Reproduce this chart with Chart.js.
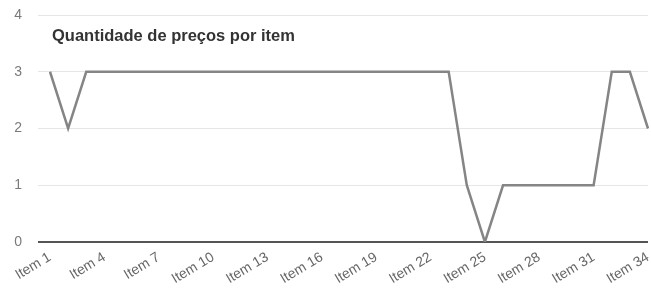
<!DOCTYPE html>
<html>
<head>
<meta charset="utf-8">
<script src="https://cdn.jsdelivr.net/npm/chart.js@4"></script>
<style>
    body { margin: 0; background: #fff; }
    #wrap { position: relative; width: 651px; height: 288px; overflow: hidden; }
    #title {
        position: absolute; left: 52px; top: 26px;
        font: bold 16.5px "Liberation Sans", Arial, sans-serif; color: #333;
    }
</style>
</head>
<body>
<div id="wrap">
    <canvas id="precosChart" width="651" height="288"></canvas>
    <div id="title">Quantidade de preços por item</div>
</div>
<script>
// Items 1..34
const items = [];
for (let i = 1; i <= 34; i++) items.push('Item ' + i);

// Number of prices per item
const quantidades = [
    3, 2, 3, 3, 3, 3, 3, 3, 3, 3,
    3, 3, 3, 3, 3, 3, 3, 3, 3, 3,
    3, 3, 3, 1, 0, 1, 1, 1, 1, 1,
    1, 3, 3, 2
];

const yTicks = [0, 1, 2, 3, 4];

const ctx = document.getElementById('precosChart');
new Chart(ctx, {
    type: 'line',
    data: {
        labels: items,
        datasets: [{
            label: 'Quantidade',
            data: quantidades,
            borderColor: '#858585',
            borderWidth: 2.5,
            pointRadius: 0,
            tension: 0,
            fill: false
        }]
    },
    options: {
        responsive: false,
        animation: false,
        layout: { padding: { top: 15, right: 3, left: 0, bottom: 0 } },
        plugins: {
            legend: { display: false },
            tooltip: { enabled: false }
        },
        scales: {
            x: {
                grid: { display: false, drawTicks: false },
                border: { display: false },
                afterFit: (scale) => {
                    scale.height = 46;
                    scale.paddingLeft = 0;
                    scale.paddingRight = 0;
                },
                ticks: {
                    autoSkip: false,
                    minRotation: 31,
                    maxRotation: 31,
                    padding: 7,
                    color: '#666',
                    font: { family: 'Liberation Sans', size: 14 },
                    callback: function (value, index) {
                        return index % 3 === 0 ? this.getLabelForValue(value) : null;
                    }
                }
            },
            y: {
                min: 0,
                max: 4,
                afterFit: (scale) => {
                    scale.width = 50;
                    scale.paddingTop = 0;
                    scale.paddingBottom = 0;
                },
                afterBuildTicks: (scale) => { scale.ticks = yTicks.map(v => ({ value: v })); },
                border: { display: false },
                grid: {
                    tickLength: 12,
                    color: (c) => c.tick && c.tick.value === 0 ? '#555' : '#e6e6e6',
                    lineWidth: (c) => c.tick && c.tick.value === 0 ? 2 : 1
                },
                ticks: {
                    padding: 16,
                    color: '#7a7a7a',
                    font: { family: 'Liberation Sans', size: 14 }
                }
            }
        }
    }
});
</script>
</body>
</html>
